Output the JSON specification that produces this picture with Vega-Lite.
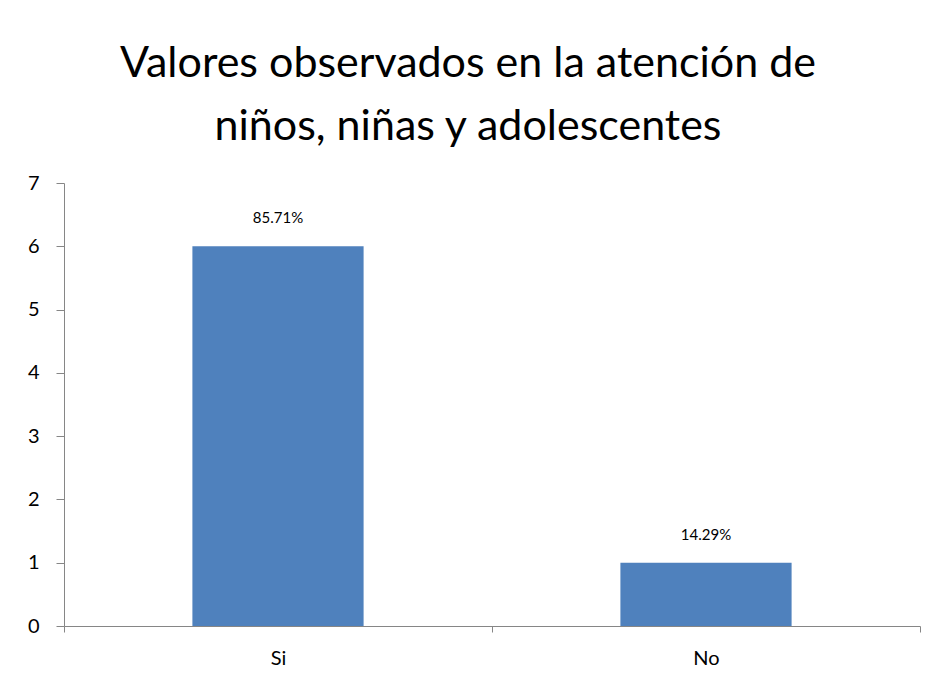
{
  "$schema": "https://vega.github.io/schema/vega-lite/v6.json",
  "autosize": "none",
  "width": 856,
  "height": 443,
  "padding": {"left": 64, "top": 183, "right": 15, "bottom": 60},
  "background": "white",
  "title": {
    "text": ["Valores observados en la atención de", "niños, niñas y adolescentes"],
    "font": "Lato",
    "fontSize": 43,
    "fontWeight": "normal",
    "color": "black",
    "anchor": "middle",
    "dx": -24,
    "lineHeight": 63,
    "offset": 24
  },
  "data": {
    "values": [
      {"respuesta": "Si", "valor": 6, "porcentaje": "85.71%"},
      {"respuesta": "No", "valor": 1, "porcentaje": "14.29%"}
    ]
  },
  "encoding": {
    "x": {
      "field": "respuesta",
      "type": "nominal",
      "sort": ["Si", "No"],
      "scale": {"paddingInner": 0, "paddingOuter": 0},
      "axis": {
        "title": null,
        "labelAngle": 0,
        "labelFont": "Lato",
        "labelFontSize": 20,
        "labelColor": "black",
        "labelPadding": 16,
        "domainColor": "#868686",
        "tickColor": "#868686",
        "tickSize": 6,
        "tickBand": "extent",
        "grid": false
      }
    },
    "y": {
      "field": "valor",
      "type": "quantitative",
      "scale": {"domain": [0, 7], "nice": false},
      "axis": {
        "title": null,
        "values": [0, 1, 2, 3, 4, 5, 6, 7],
        "labelFont": "Lato",
        "labelFontSize": 20,
        "labelColor": "black",
        "labelPadding": 17,
        "domainColor": "#868686",
        "tickColor": "#868686",
        "tickSize": 8,
        "grid": false
      }
    }
  },
  "layer": [
    {"mark": {"type": "bar", "color": "#4F81BD", "width": {"band": 0.4}}},
    {
      "mark": {"type": "text", "dy": -28, "font": "Lato", "fontSize": 15, "color": "black"},
      "encoding": {"text": {"field": "porcentaje"}}
    }
  ],
  "config": {"view": {"stroke": null}}
}
